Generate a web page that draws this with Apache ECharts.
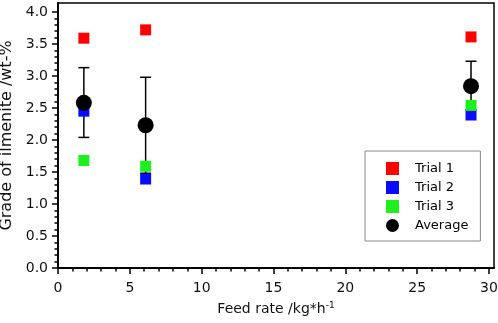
<!DOCTYPE html>
<html>
<head>
<meta charset="utf-8">
<script src="https://cdn.jsdelivr.net/npm/echarts@6/dist/echarts.min.js"></script>
<style>
  html, body { margin: 0; padding: 0; background: #fff; }
  #divChart { width: 498px; height: 323px; }
</style>
</head>
<body>
<div id="divChart"></div>
<script>
// 进料速率 /kg*h^-1
var adFeedRate = [1.8, 6.1, 28.75];
// 三次试验的品位 /wt-%
var adTrial1 = [3.59, 3.72, 3.61];
var adTrial2 = [2.45, 1.39, 2.39];
var adTrial3 = [1.68, 1.59, 2.54];
// 平均值及误差棒上下限
var adAverage = [2.58, 2.23, 2.84];
var adErrLow = [2.04, 1.48, 2.47];
var adErrHigh = [3.13, 2.98, 3.23];

// 刻度
var adXTicks = [0, 5, 10, 15, 20, 25, 30];
var adYTicks = [0, 0.5, 1.0, 1.5, 2.0, 2.5, 3.0, 3.5, 4.0];

var cFont = 'DejaVu Sans';

function minorOf(adTicks, nSplit) {
    var ad = [];
    for (var i = 0; i < adTicks.length - 1; i++) {
        var dStep = (adTicks[i + 1] - adTicks[i]) / nSplit;
        for (var j = 1; j < nSplit; j++) {
            ad.push(+(adTicks[i] + dStep * j).toFixed(4));
        }
    }
    return ad;
}

function pairs(adX, adY) {
    var a = [];
    for (var i = 0; i < adX.length; i++) a.push([adX[i], adY[i]]);
    return a;
}

var oLine = { show: true, onZero: false, lineStyle: { color: '#000', width: 1.5 } };
var dXMax = 30.35, dYMax = 4.14;

var aoErr = [];
for (var i = 0; i < adFeedRate.length; i++) aoErr.push([adFeedRate[i], adErrLow[i], adErrHigh[i]]);

var oChart = echarts.init(document.getElementById('divChart'), null, { renderer: 'canvas' });

var oOption = {
    animation: false,
    textStyle: { fontFamily: cFont },
    grid: {
        left: 58, right: 4, top: 3, bottom: 55,
        outerBoundsMode: 'none',
        containLabel: false,
        show: true, borderColor: '#000', borderWidth: 1.5
    },
    legend: {
        orient: 'vertical',
        left: 365, top: 151,
        padding: [11, 12, 9, 21],
        itemWidth: 13, itemHeight: 13, itemGap: 6,
        borderColor: '#888', borderWidth: 1,
        data: [
            { name: 'Trial 1', icon: 'rect' },
            { name: 'Trial 2', icon: 'rect' },
            { name: 'Trial 3', icon: 'rect' },
            { name: 'Average', icon: 'circle' }
        ],
        textStyle: { fontFamily: cFont, fontSize: 13, color: '#000', padding: [0, 0, 0, 11] }
    },
    xAxis: [
        {
            // 次刻度
            type: 'value', min: 0, max: dXMax, position: 'bottom',
            axisLine: oLine,
            axisTick: { show: true, inside: false, length: 3.5, customValues: minorOf(adXTicks, 5),
                lineStyle: { color: '#000', width: 1.5 } },
            axisLabel: { show: false },
            splitLine: { show: false }
        },
        {
            type: 'value', min: 0, max: dXMax, position: 'bottom',
            axisLine: oLine,
            axisTick: { show: true, inside: false, length: 6, customValues: adXTicks,
                lineStyle: { color: '#000', width: 1.5 } },
            axisLabel: { customValues: adXTicks, margin: 13, fontFamily: cFont, fontSize: 14, color: '#111' },
            splitLine: { show: false },
            name: '{a|Feed rate /kg*h}{s|-1}',
            nameLocation: 'middle',
            nameGap: 33,
            nameTextStyle: {
                rich: {
                    a: { fontFamily: cFont, fontSize: 14, color: '#111', lineHeight: 15, verticalAlign: 'bottom' },
                    s: { fontFamily: cFont, fontSize: 9, color: '#111', lineHeight: 9, verticalAlign: 'top' }
                }
            }
        }
    ],
    yAxis: [
        {
            type: 'value', min: 0, max: dYMax, position: 'left',
            axisLine: oLine,
            axisTick: { show: true, inside: false, length: 3.5, customValues: minorOf(adYTicks, 5),
                lineStyle: { color: '#000', width: 1.5 } },
            axisLabel: { show: false },
            splitLine: { show: false }
        },
        {
            type: 'value', min: 0, max: dYMax, position: 'left',
            axisLine: oLine,
            axisTick: { show: true, inside: false, length: 6, customValues: adYTicks,
                lineStyle: { color: '#000', width: 1.5 } },
            axisLabel: {
                customValues: adYTicks, margin: 10, fontFamily: cFont, fontSize: 14, color: '#111',
                formatter: function (v) { return v.toFixed(1); }
            },
            splitLine: { show: false },
            name: 'Grade of ilmenite /wt-%',
            nameLocation: 'middle',
            nameGap: 39,
            nameTextStyle: { fontFamily: cFont, fontSize: 16, color: '#111' }
        }
    ],
    series: [
        {
            name: 'Trial 1', type: 'scatter', xAxisIndex: 1, yAxisIndex: 1,
            symbol: 'rect', symbolSize: 11,
            itemStyle: { color: '#ff0000', opacity: 1 },
            data: pairs(adFeedRate, adTrial1)
        },
        {
            name: 'Trial 2', type: 'scatter', xAxisIndex: 1, yAxisIndex: 1,
            symbol: 'rect', symbolSize: 11,
            itemStyle: { color: '#0a0aff', opacity: 1 },
            data: pairs(adFeedRate, adTrial2)
        },
        {
            name: 'Trial 3', type: 'scatter', xAxisIndex: 1, yAxisIndex: 1,
            symbol: 'rect', symbolSize: 11,
            itemStyle: { color: '#1ef01e', opacity: 1 },
            data: pairs(adFeedRate, adTrial3)
        },
        {
            name: 'err', type: 'custom', xAxisIndex: 1, yAxisIndex: 1,
            encode: { x: 0, y: [1, 2] },
            renderItem: function (params, api) {
                var pLow = api.coord([api.value(0), api.value(1)]);
                var pHigh = api.coord([api.value(0), api.value(2)]);
                var dHalf = 5.5;
                var oStyle = { stroke: '#000', lineWidth: 1.5 };
                return {
                    type: 'group',
                    children: [
                        { type: 'line', shape: { x1: pLow[0], y1: pLow[1], x2: pHigh[0], y2: pHigh[1] }, style: oStyle },
                        { type: 'line', shape: { x1: pLow[0] - dHalf, y1: pLow[1], x2: pLow[0] + dHalf, y2: pLow[1] }, style: oStyle },
                        { type: 'line', shape: { x1: pHigh[0] - dHalf, y1: pHigh[1], x2: pHigh[0] + dHalf, y2: pHigh[1] }, style: oStyle }
                    ]
                };
            },
            data: aoErr
        },
        {
            name: 'Average', type: 'scatter', xAxisIndex: 1, yAxisIndex: 1,
            symbol: 'circle', symbolSize: 16,
            itemStyle: { color: '#000', opacity: 1 },
            data: pairs(adFeedRate, adAverage)
        }
    ]
};

oChart.setOption(oOption, true);
</script>
</body>
</html>
